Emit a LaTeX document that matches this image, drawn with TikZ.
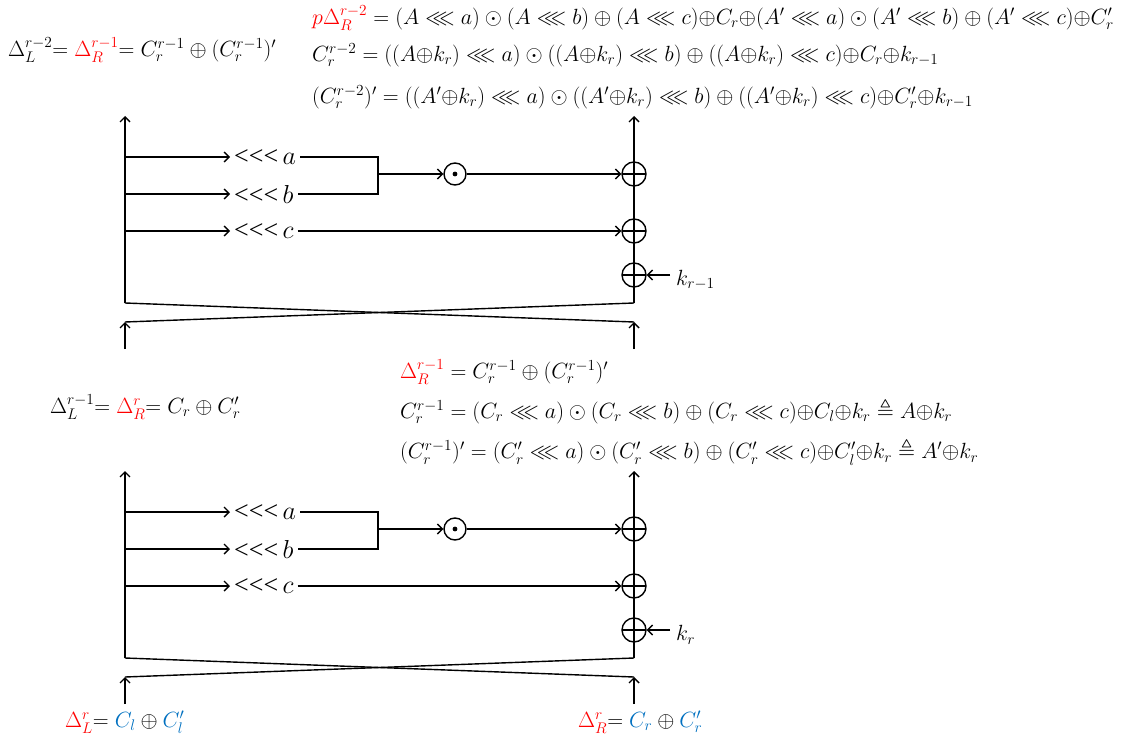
\RequirePackage{fix-cm}
\documentclass[tikz,border=0pt]{standalone}
\usepackage{amsmath,amssymb}
\usepackage{fontspec}
\newfontfamily\timesf{Liberation Serif}
\usetikzlibrary{arrows.meta}
\definecolor{myred}{RGB}{255,0,0}
\definecolor{myblue}{RGB}{0,112,192}
\tikzset{
  ln/.style={line width=1.4pt},
  arr/.style={ln,-{Straight Barb[length=5pt,width=10pt,line width=1.4pt]}},
  xorn/.style={circle,draw,ln,fill=white,minimum size=24pt,inner sep=0pt,
    path picture={\draw[ln] (path picture bounding box.north)--(path picture bounding box.south)
      (path picture bounding box.west)--(path picture bounding box.east);}},
  dotn/.style={circle,draw,ln,fill=white,minimum size=22pt,inner sep=0pt,
    path picture={\fill[black] (path picture bounding box.center) circle (2.4pt);}},
  rot/.style={font=\fontsize{26}{28}\selectfont,inner xsep=4pt,inner ysep=1pt,anchor=west},
  eq/.style={font=\fontsize{22}{26}\selectfont,inner sep=0pt,anchor=west},
}
\begin{document}
\begin{tikzpicture}[x=1pt,y=-1pt]
\useasboundingbox (0,0) rectangle (1147,746);
\foreach \p/\dy/\k in {u/0/{k_{r-1}},l/355/{k_r}}{
  \begin{scope}[yshift=-\dy pt]
  \coordinate (\p Lt) at (125,116);
  \coordinate (\p Lb) at (125,303);
  \coordinate (\p Rt) at (634,116);
  \coordinate (\p Rb) at (634,303);
  \coordinate (\p Lx) at (125,322);
  \coordinate (\p Rx) at (634,322);
  \coordinate (\p Ls) at (125,349);
  \coordinate (\p Rs) at (634,349);
  \coordinate (\p br) at (378,174);
  \coordinate (\p bt) at (378,157);
  \coordinate (\p bb) at (378,194);
  \coordinate (\p ka) at (125,157);
  \coordinate (\p kb) at (125,194);
  \coordinate (\p kc) at (125,231);
  \coordinate (\p kk) at (670,275);
  \draw[arr] (\p Lb) -- (\p Lt);
  \draw[arr] (\p Rb) -- (\p Rt);
  \node[rot] (\p a) at (230,157) {{\timesf <<<}\,$a$};
  \node[rot] (\p b) at (230,194) {{\timesf <<<}\,$b$};
  \node[rot] (\p c) at (230,231) {{\timesf <<<}\,$c$};
  \draw[arr] (\p ka) -- (\p a.west);
  \draw[arr] (\p kb) -- (\p b.west);
  \draw[arr] (\p kc) -- (\p c.west);
  \draw[ln] (\p a.east) -- (\p bt) -- (\p bb) -- (\p b.east);
  \node[dotn] (\p dot) at (455,174) {};
  \node[xorn] (\p x1) at (634,174) {};
  \node[xorn] (\p x2) at (634,231) {};
  \node[xorn] (\p x3) at (634,275) {};
  \draw[arr] (\p br) -- (\p dot.west);
  \draw[arr] (\p dot.east) -- (\p x1.west);
  \draw[arr] (\p c.east) -- (\p x2.west);
  \draw[arr] (\p kk) -- (\p x3.east);
  \node[eq] (\p klab) at (676,280) {$\k$};
  \draw[ln] (\p Lb) -- (\p Rx);
  \draw[ln] (\p Rb) -- (\p Lx);
  \draw[arr] (\p Ls) -- (\p Lx);
  \draw[arr] (\p Rs) -- (\p Rx);
  \end{scope}
}
% upper texts
\node[eq] (t0) at (8,50) {$\Delta_L^{r-2}{=}\;\textcolor{myred}{\Delta_R^{r-1}}{=}\;C_r^{r-1}\oplus(C_r^{r-1})'$};
\node[eq] (t1) at (312,18) {$\textcolor{myred}{p\Delta_R^{r-2}} = (A\lll a)\odot(A\lll b)\oplus(A\lll c){\oplus}C_r{\oplus}(A'\lll a)\odot(A'\lll b)\oplus(A'\lll c){\oplus}C_r'$};
\node[eq] (t2) at (312,55) {$C_r^{r-2} = ((A{\oplus}k_r)\lll a)\odot((A{\oplus}k_r)\lll b)\oplus((A{\oplus}k_r)\lll c){\oplus}C_r{\oplus}k_{r-1}$};
\node[eq] (t3) at (312,97) {$(C_r^{r-2})' = ((A'{\oplus}k_r)\lll a)\odot((A'{\oplus}k_r)\lll b)\oplus((A'{\oplus}k_r)\lll c){\oplus}C_r'{\oplus}k_{r-1}$};
% middle texts
\node[eq] (m0) at (50,407) {$\Delta_L^{r-1}{=}\;\textcolor{myred}{\Delta_R^{r}}{=}\;C_r\oplus C_r'$};
\node[eq] (m1) at (400,372) {$\textcolor{myred}{\Delta_R^{r-1}} = C_r^{r-1}\oplus(C_r^{r-1})'$};
\node[eq] (m2) at (400,411) {$C_r^{r-1} = (C_r\lll a)\odot(C_r\lll b)\oplus(C_r\lll c){\oplus}C_l{\oplus}k_r\triangleq A{\oplus}k_r$};
\node[eq] (m3) at (400,452) {$(C_r^{r-1})' = (C_r'\lll a)\odot(C_r'\lll b)\oplus(C_r'\lll c){\oplus}C_l'{\oplus}k_r\triangleq A'{\oplus}k_r$};
% bottom texts
\node[eq] (b0) at (65,722) {$\textcolor{myred}{\Delta_L^{r}}{=}\;\textcolor{myblue}{C_l}\oplus\textcolor{myblue}{C_l'}$};
\node[eq] (b1) at (578,722) {$\textcolor{myred}{\Delta_R^{r}}{=}\;\textcolor{myblue}{C_r}\oplus\textcolor{myblue}{C_r'}$};
\end{tikzpicture}
\end{document}
